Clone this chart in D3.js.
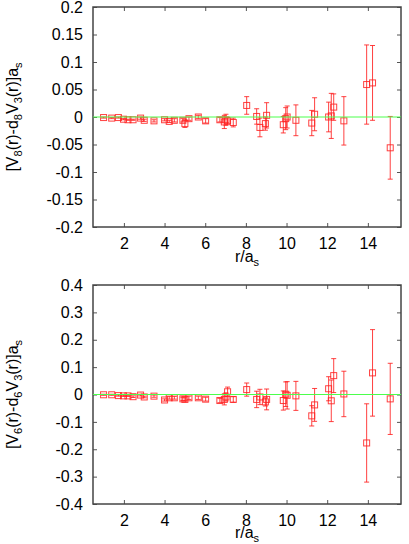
<!DOCTYPE html>
<html>
<head>
<meta charset="utf-8">
<script src="https://cdn.jsdelivr.net/npm/d3@7"></script>
<style>
body { margin: 0; background: #fff; }
svg { display: block; font-family: "Liberation Sans", Arial, sans-serif; }
.axis text { font-size: 16px; fill: #000; }
</style>
</head>
<body>
<svg width="409" height="544"></svg>
<script>
/* data */
var rVals = [1.0, 1.4, 1.73, 1.98, 2.2, 2.45, 2.82, 3.0, 3.48, 4.0, 4.23, 4.48, 4.9, 5.0, 5.2, 5.66,
    6.02, 6.72, 6.94, 7.02, 7.1, 7.38, 8.04, 8.53, 8.69, 8.96, 9.02, 9.84, 9.96, 10.03, 10.46,
    11.24, 11.38, 12.07, 12.2, 12.32, 12.82, 13.94, 14.23, 15.1];

// upper panel: V8 - d8 V3
var v8 = [-0.001, -0.002, -0.001, -0.004, -0.005, -0.005, -0.002, -0.006, -0.007, -0.005, -0.008, -0.006, -0.006, -0.012, -0.003, 0.0,
    -0.007, -0.005, -0.009, -0.005, -0.007, -0.010, 0.021, 0.001, -0.019, -0.012, 0.003, -0.014, -0.003, 0.0, -0.006,
    -0.011, 0.005, 0.0, 0.002, 0.018, -0.007, 0.059, 0.062, -0.056];
var v8err = [0.001, 0.001, 0.001, 0.001, 0.001, 0.001, 0.002, 0.002, 0.002, 0.002, 0.002, 0.003, 0.003, 0.007, 0.003, 0.003,
    0.004, 0.004, 0.012, 0.010, 0.006, 0.008, 0.016, 0.014, 0.017, 0.012, 0.023, 0.015, 0.020, 0.020, 0.028,
    0.023, 0.030, 0.027, 0.041, 0.024, 0.044, 0.072, 0.068, 0.057];

// lower panel: V6 - d6 V3
var v6 = [-0.001, -0.001, -0.004, -0.005, -0.005, -0.008, -0.002, -0.009, -0.006, -0.020, -0.012, -0.012, -0.016, -0.018, -0.012, -0.012,
    -0.017, -0.022, -0.018, -0.009, 0.010, -0.018, 0.018, -0.018, -0.009, -0.027, -0.018, -0.022, 0.001, -0.003, -0.005,
    -0.078, -0.038, 0.021, -0.023, 0.069, 0.002, -0.177, 0.079, -0.016];
var v6err = [0.002, 0.002, 0.002, 0.002, 0.002, 0.003, 0.003, 0.003, 0.004, 0.004, 0.005, 0.005, 0.006, 0.006, 0.006, 0.006,
    0.007, 0.008, 0.020, 0.015, 0.017, 0.010, 0.024, 0.030, 0.028, 0.015, 0.038, 0.035, 0.045, 0.050, 0.053,
    0.037, 0.060, 0.044, 0.076, 0.062, 0.083, 0.143, 0.158, 0.130];

var xTicks = [2, 4, 6, 8, 10, 12, 14];
var yTicks8 = [-0.2, -0.15, -0.1, -0.05, 0, 0.05, 0.1, 0.15, 0.2];
var yTicks6 = [-0.4, -0.3, -0.2, -0.1, 0, 0.1, 0.2, 0.3, 0.4];

/* layout */
var svg = d3.select("svg"),
    left = 93,
    right = 401;

var x = d3.scaleLinear().domain([0.48, 15.63]).range([left, right]);

var red = "#ff2020";

function drawPanel(top, bottom, yDomain, yTicks, vals, errs, labelParts, xLabelY) {
    var y = d3.scaleLinear().domain(yDomain).range([bottom, top]);
    var g = svg.append("g");

    // ticks on all four sides, pointing inward
    g.append("g")
        .attr("class", "axis")
        .attr("transform", "translate(0," + bottom + ")")
        .call(d3.axisBottom(x).tickValues(xTicks).tickSize(-4).tickPadding(11).tickFormat(function(d) { return String(d); }));
    g.append("g")
        .attr("class", "axis")
        .attr("transform", "translate(0," + top + ")")
        .call(d3.axisTop(x).tickValues(xTicks).tickSize(-4).tickFormat(""));
    g.append("g")
        .attr("class", "axis")
        .attr("transform", "translate(" + left + ",0)")
        .call(d3.axisLeft(y).tickValues(yTicks).tickSize(-4).tickPadding(10).tickFormat(function(d) { return String(d); }));
    g.append("g")
        .attr("class", "axis")
        .attr("transform", "translate(" + right + ",0)")
        .call(d3.axisRight(y).tickValues(yTicks).tickSize(-4).tickFormat(""));

    g.selectAll(".axis .domain").remove();
    g.selectAll(".axis line").attr("stroke", "#555");

    g.append("rect")
        .attr("x", left)
        .attr("y", top)
        .attr("width", right - left)
        .attr("height", bottom - top)
        .attr("fill", "none")
        .attr("stroke", "#444")
        .attr("stroke-width", 1.5);

    var pts = g.selectAll(".pt")
        .data(rVals.map(function(r, i) { return {r: r, v: vals[i], e: errs[i]}; }))
        .enter().append("g")
        .attr("class", "pt")
        .attr("stroke", red)
        .attr("stroke-width", 1)
        .attr("fill", "none")
        .attr("stroke-opacity", 0.85);

    pts.append("line")
        .attr("x1", function(d) { return x(d.r); })
        .attr("x2", function(d) { return x(d.r); })
        .attr("y1", function(d) { return y(d.v - d.e); })
        .attr("y2", function(d) { return y(d.v + d.e); });
    pts.append("line")
        .attr("x1", function(d) { return x(d.r) - 2.5; })
        .attr("x2", function(d) { return x(d.r) + 2.5; })
        .attr("y1", function(d) { return y(d.v - d.e); })
        .attr("y2", function(d) { return y(d.v - d.e); });
    pts.append("line")
        .attr("x1", function(d) { return x(d.r) - 2.5; })
        .attr("x2", function(d) { return x(d.r) + 2.5; })
        .attr("y1", function(d) { return y(d.v + d.e); })
        .attr("y2", function(d) { return y(d.v + d.e); });
    pts.append("rect")
        .attr("x", function(d) { return x(d.r) - 3; })
        .attr("y", function(d) { return y(d.v) - 3; })
        .attr("width", 6)
        .attr("height", 6);

    // zero line
    g.append("line")
        .attr("x1", left)
        .attr("x2", right)
        .attr("y1", y(0))
        .attr("y2", y(0))
        .attr("stroke", "#4cff4c")
        .attr("stroke-width", 1);

    /* axis titles */
    var xl = g.append("text")
        .attr("x", (left + right) / 2)
        .attr("y", xLabelY)
        .attr("text-anchor", "middle")
        .style("font-size", "16px");
    xl.append("tspan").text("r/a");
    xl.append("tspan").attr("dy", 4).style("font-size", "11px").text("s");

    var yl = g.append("text")
        .attr("transform", "translate(18," + ((top + bottom) / 2) + ") rotate(-90)")
        .attr("text-anchor", "middle")
        .style("font-size", "16px");
    labelParts.forEach(function(p) {
        if (p.sub) {
            yl.append("tspan").attr("dy", 4).style("font-size", "11px").text(p.t);
        } else {
            yl.append("tspan").attr("dy", p.after ? -4 : 0).text(p.t);
        }
    });
}

function yLabel(n) {
    return [
        {t: "[V"}, {t: n, sub: true}, {t: "(r)-d", after: true}, {t: n, sub: true},
        {t: "V", after: true}, {t: "3", sub: true}, {t: "(r)]a", after: true}, {t: "s", sub: true}
    ];
}

drawPanel(7, 227, [-0.2, 0.2], yTicks8, v8, v8err, yLabel("8"), 262);
drawPanel(285, 504, [-0.4, 0.4], yTicks6, v6, v6err, yLabel("6"), 538);
</script>
</body>
</html>
